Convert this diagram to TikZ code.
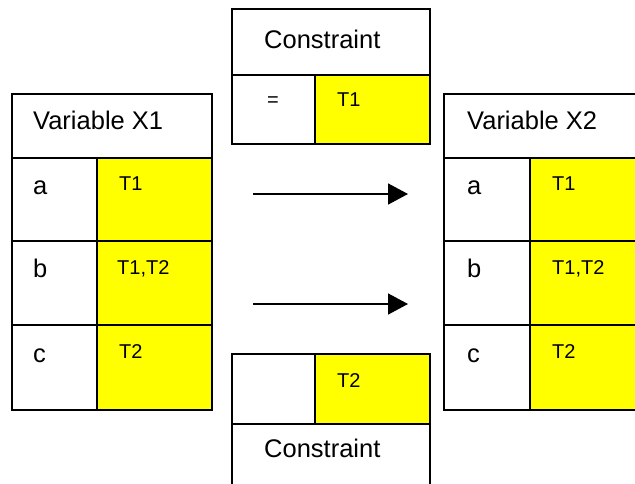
\documentclass[tikz,border=0pt]{standalone}
\usepackage{fontspec}
\setmainfont{Liberation Sans}
\usetikzlibrary{arrows.meta}
\definecolor{cellyellow}{RGB}{255,255,0}
\tikzset{
  cell/.style={draw=black, line width=1.5pt, fill=white, anchor=north west, inner sep=0pt, outer sep=0pt},
  ycell/.style={cell, fill=cellyellow},
  big/.style={anchor=base west, inner sep=0pt, font=\fontsize{25.5}{28}\selectfont},
  small/.style={anchor=base west, inner sep=0pt, font=\fontsize{20}{22}\selectfont},
  flow/.style={line width=1.6pt, -{Triangle[length=20pt,width=21pt]}}
}
\begin{document}
\begin{tikzpicture}[x=1pt,y=-1pt]
\clip (0,0) rectangle (635,483);
\fill[white] (0,0) rectangle (635,483);
% Variable X1
\node[cell, minimum width=200pt, minimum height=64pt] (x1h) at (12,94) {};
\node[cell, minimum width=85pt, minimum height=83pt] (x1a) at (12,158) {};
\node[ycell, minimum width=115pt, minimum height=83pt] (x1at) at (97,158) {};
\node[cell, minimum width=85pt, minimum height=84pt] (x1b) at (12,241) {};
\node[ycell, minimum width=115pt, minimum height=84pt] (x1bt) at (97,241) {};
\node[cell, minimum width=85pt, minimum height=85pt] (x1c) at (12,325) {};
\node[ycell, minimum width=115pt, minimum height=85pt] (x1ct) at (97,325) {};
\node[big] (x1hl) at (33,129) {Variable X1};
\node[big] (x1al) at (33,194) {a};
\node[big] (x1bl) at (33,277) {b};
\node[big] (x1cl) at (33,362) {c};
\node[small] (x1atl) at (119,190) {T1};
\node[small] (x1btl) at (117,274) {T1,T2};
\node[small] (x1ctl) at (119,358) {T2};
% Variable X2
\node[cell, minimum width=200pt, minimum height=64pt] (x2h) at (444,94) {};
\node[cell, minimum width=86pt, minimum height=83pt] (x2a) at (444,158) {};
\node[ycell, minimum width=115pt, minimum height=83pt] (x2at) at (530,158) {};
\node[cell, minimum width=86pt, minimum height=84pt] (x2b) at (444,241) {};
\node[ycell, minimum width=115pt, minimum height=84pt] (x2bt) at (530,241) {};
\node[cell, minimum width=86pt, minimum height=85pt] (x2c) at (444,325) {};
\node[ycell, minimum width=115pt, minimum height=85pt] (x2ct) at (530,325) {};
\node[big] (x2hl) at (467,129) {Variable X2};
\node[big] (x2al) at (467,194) {a};
\node[big] (x2bl) at (467,277) {b};
\node[big] (x2cl) at (467,362) {c};
\node[small] (x2atl) at (552,190) {T1};
\node[small] (x2btl) at (552,274) {T1,T2};
\node[small] (x2ctl) at (552,358) {T2};
% Top constraint
\node[cell, minimum width=198pt, minimum height=66pt] (c1h) at (232,9) {};
\node[cell, minimum width=83pt, minimum height=69pt] (c1o) at (232,75) {};
\node[ycell, minimum width=115pt, minimum height=69pt] (c1t) at (315,75) {};
\node[big] (c1hl) at (264,48) {Constraint};
\node[small] (c1ol) at (267,106) {=};
\node[small] (c1tl) at (337,106) {T1};
% Bottom constraint
\node[cell, minimum width=83pt, minimum height=70pt] (c2o) at (232,354) {};
\node[ycell, minimum width=115pt, minimum height=70pt] (c2t) at (315,354) {};
\node[cell, minimum width=198pt, minimum height=70pt] (c2h) at (232,424) {};
\node[big] (c2hl) at (264,457) {Constraint};
\node[small] (c2tl) at (337,387) {T2};
% Arrows
\coordinate (a1s) at (253,194);
\coordinate (a1e) at (408,194);
\coordinate (a2s) at (253,304);
\coordinate (a2e) at (408,304);
\draw[flow] (a1s) -- (a1e);
\draw[flow] (a2s) -- (a2e);
\end{tikzpicture}
\end{document}
